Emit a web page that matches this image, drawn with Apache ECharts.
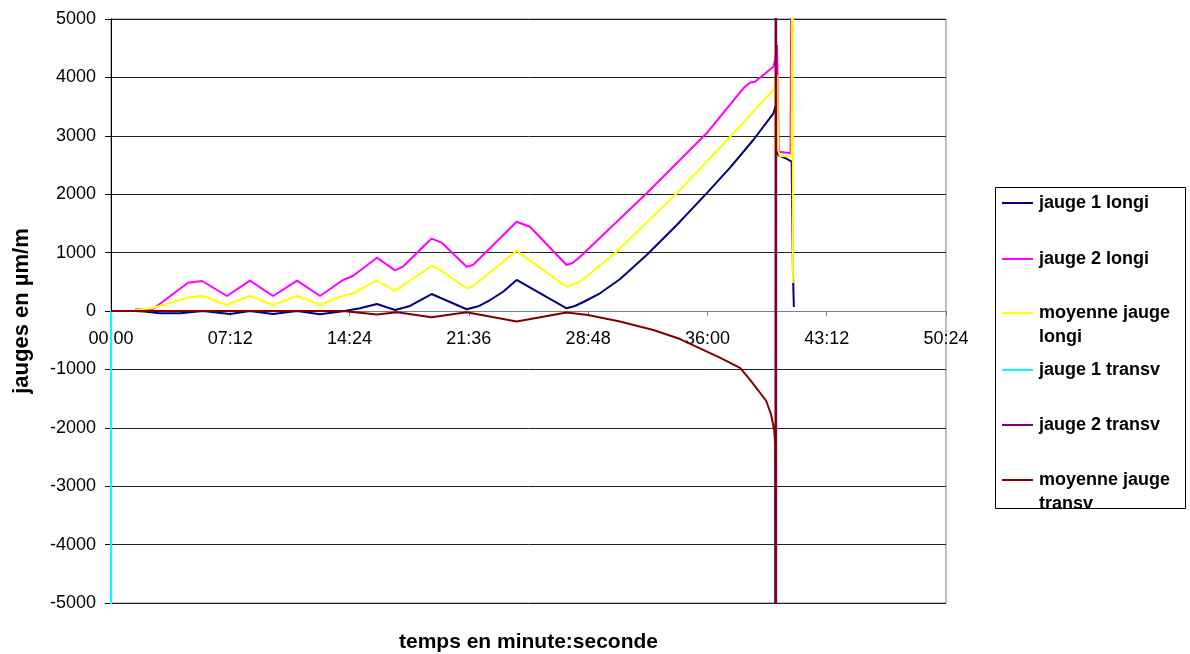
<!DOCTYPE html>
<html>
<head>
<meta charset="utf-8">
<script src="https://cdn.jsdelivr.net/npm/echarts@6/dist/echarts.min.js"></script>
<style>
html,body{margin:0;padding:0;background:#fff;}
#chart{width:1190px;height:654px;}
</style>
</head>
<body>
<div id="chart"></div>
<script>
// time in seconds, values in µm/m
const xTickLabels = ['00:00','07:12','14:24','21:36','28:48','36:00','43:12','50:24'];
const seriesNames = ['jauge 1 longi','jauge 2 longi','moyenne jauge longi','jauge 1 transv','jauge 2 transv','moyenne jauge transv'];
const legendLabels = ['jauge 1 longi','jauge 2 longi','\nmoyenne jauge\nlongi','jauge 1 transv','jauge 2 transv','\nmoyenne jauge\ntransv'];

const jauge1Longi = [[87,0],[120,-10],[177,-40],[250,-40],[333,0],[431,-50],[503,0],[587,-50],[674,0],[757,-55],[840,-5],[902,46],[963,120],[1029,17],[1083,86],[1161,291],[1288,30],[1330,80],[1373,188],[1420,330],[1469,531],[1650,46],[1680,86],[1709,150],[1771,303],[1843,543],[1940,959],[2049,1473],[2157,2015],[2242,2454],[2326,2928],[2399,3385],[2408,3527],[2416,2671],[2441,2620],[2465,2556],[2470,600],[2473,70]];
const jauge2Longi = [[87,30],[152,35],[279,485],[330,514],[420,257],[503,520],[587,257],[674,520],[757,257],[840,530],[876,600],[963,913],[1029,695],[1057,759],[1161,1240],[1198,1170],[1288,759],[1311,788],[1469,1529],[1517,1443],[1650,788],[1673,827],[1699,930],[1940,2015],[2157,3043],[2290,3813],[2314,3910],[2332,3926],[2399,4183],[2405,4298],[2412,4555],[2414,4075],[2418,2728],[2461,2700],[2467,9000]];
const moyenneLongi = [[87,17],[152,50],[276,228],[330,262],[420,103],[503,262],[587,103],[674,262],[757,103],[840,262],[876,303],[963,519],[1029,348],[1161,771],[1184,731],[1288,389],[1311,428],[1469,1030],[1650,416],[1699,502],[1831,1016],[2049,2015],[2254,3043],[2326,3413],[2399,3784],[2408,3898],[2413,4041],[2416,2757],[2422,2660],[2465,2640],[2469,9000],[2469.5,480]];
const jauge1Transv = [[0,0],[0,-9000]];
const jauge2Transv = [[2409,9000],[2409,-9000]];
const moyenneTransv = [[0,0],[840,0],[963,-60],[1036,-23],[1161,-108],[1288,-23],[1469,-180],[1650,-25],[1727,-68],[1843,-180],[1964,-325],[2061,-480],[2133,-639],[2205,-800],[2278,-975],[2314,-1176],[2343,-1353],[2373,-1541],[2390,-1764],[2402,-2038],[2405,-2260],[2406,-9000],[2407,9000]];

const seriesData = [jauge1Longi, jauge2Longi, moyenneLongi, jauge1Transv, jauge2Transv, moyenneTransv];
const colors = ['#000080','#FF00FF','#FFFF00','#00FFFF','#800080','#800000'];
const legendCenters = [203, 259, 313, 370, 425, 480];

const FONT = '"Liberation Sans", Arial, sans-serif';
const chart = echarts.init(document.getElementById('chart'), null, {renderer: 'canvas'});

const legends = seriesNames.map((n, i) => {
  const lines = legendLabels[i].split('\n').length;
  return {
    data: [n],
    left: 1002,
    top: legendCenters[i] - (lines === 1 ? 12 : 36),
    padding: 0,
    itemWidth: 31,
    itemHeight: 2,
    icon: 'rect',
    selectedMode: false,
    formatter: () => legendLabels[i],
    textStyle: {fontFamily: FONT, fontSize: 18, fontWeight: 'bold', color: '#000', lineHeight: 24, padding: [0,0,0,1]}
  };
});

chart.setOption({
  animation: false,
  backgroundColor: '#fff',
  color: colors,
  grid: {left: 111, right: 244, top: 19, bottom: 51, containLabel: false, outerBoundsMode: 'none',
    show: true, borderColor: '#808080', borderWidth: 1, backgroundColor: 'transparent'},
  legend: legends,
  graphic: [{
    type: 'rect', left: 995, top: 187, shape: {width: 190, height: 321},
    style: {fill: 'transparent', stroke: '#000', lineWidth: 1}, silent: true, z: -1
  }],
  xAxis: {
    type: 'value', min: 0, max: 3024, interval: 432,
    position: 'bottom', offset: -292,
    axisLine: {onZero: false, lineStyle: {color: '#808080', width: 1}},
    axisTick: {show: true, inside: false, length: 5, lineStyle: {color: '#808080'}},
    axisLabel: {margin: 19, fontFamily: FONT, fontSize: 18, color: '#000',
      formatter: (v) => xTickLabels[Math.round(v / 432)]},
    splitLine: {show: false},
    name: 'temps en minute:seconde', nameLocation: 'middle', nameGap: 321,
    nameTextStyle: {fontFamily: FONT, fontSize: 21, fontWeight: 'bold', color: '#000'}
  },
  yAxis: {
    type: 'value', min: -5000, max: 5000, interval: 1000,
    axisLine: {show: true, onZero: false, lineStyle: {color: '#000', width: 1}},
    axisTick: {show: true, inside: false, length: 6, lineStyle: {color: '#000'}},
    axisLabel: {margin: 15, fontFamily: FONT, fontSize: 18, color: '#000', formatter: (v) => String(v)},
    splitLine: {show: true, lineStyle: {color: '#222', width: 1}},
    name: 'jauges en µm/m', nameLocation: 'middle', nameGap: 78, nameRotate: 90,
    nameTextStyle: {fontFamily: FONT, fontSize: 22, fontWeight: 'bold', color: '#000'}
  },
  series: seriesNames.map((n, i) => ({
    name: n, type: 'line', data: seriesData[i], showSymbol: false, symbol: 'none',
    clip: true, lineStyle: {width: 2, color: colors[i]}, itemStyle: {color: colors[i]},
    z: 2 + i
  }))
});
</script>
</body>
</html>
